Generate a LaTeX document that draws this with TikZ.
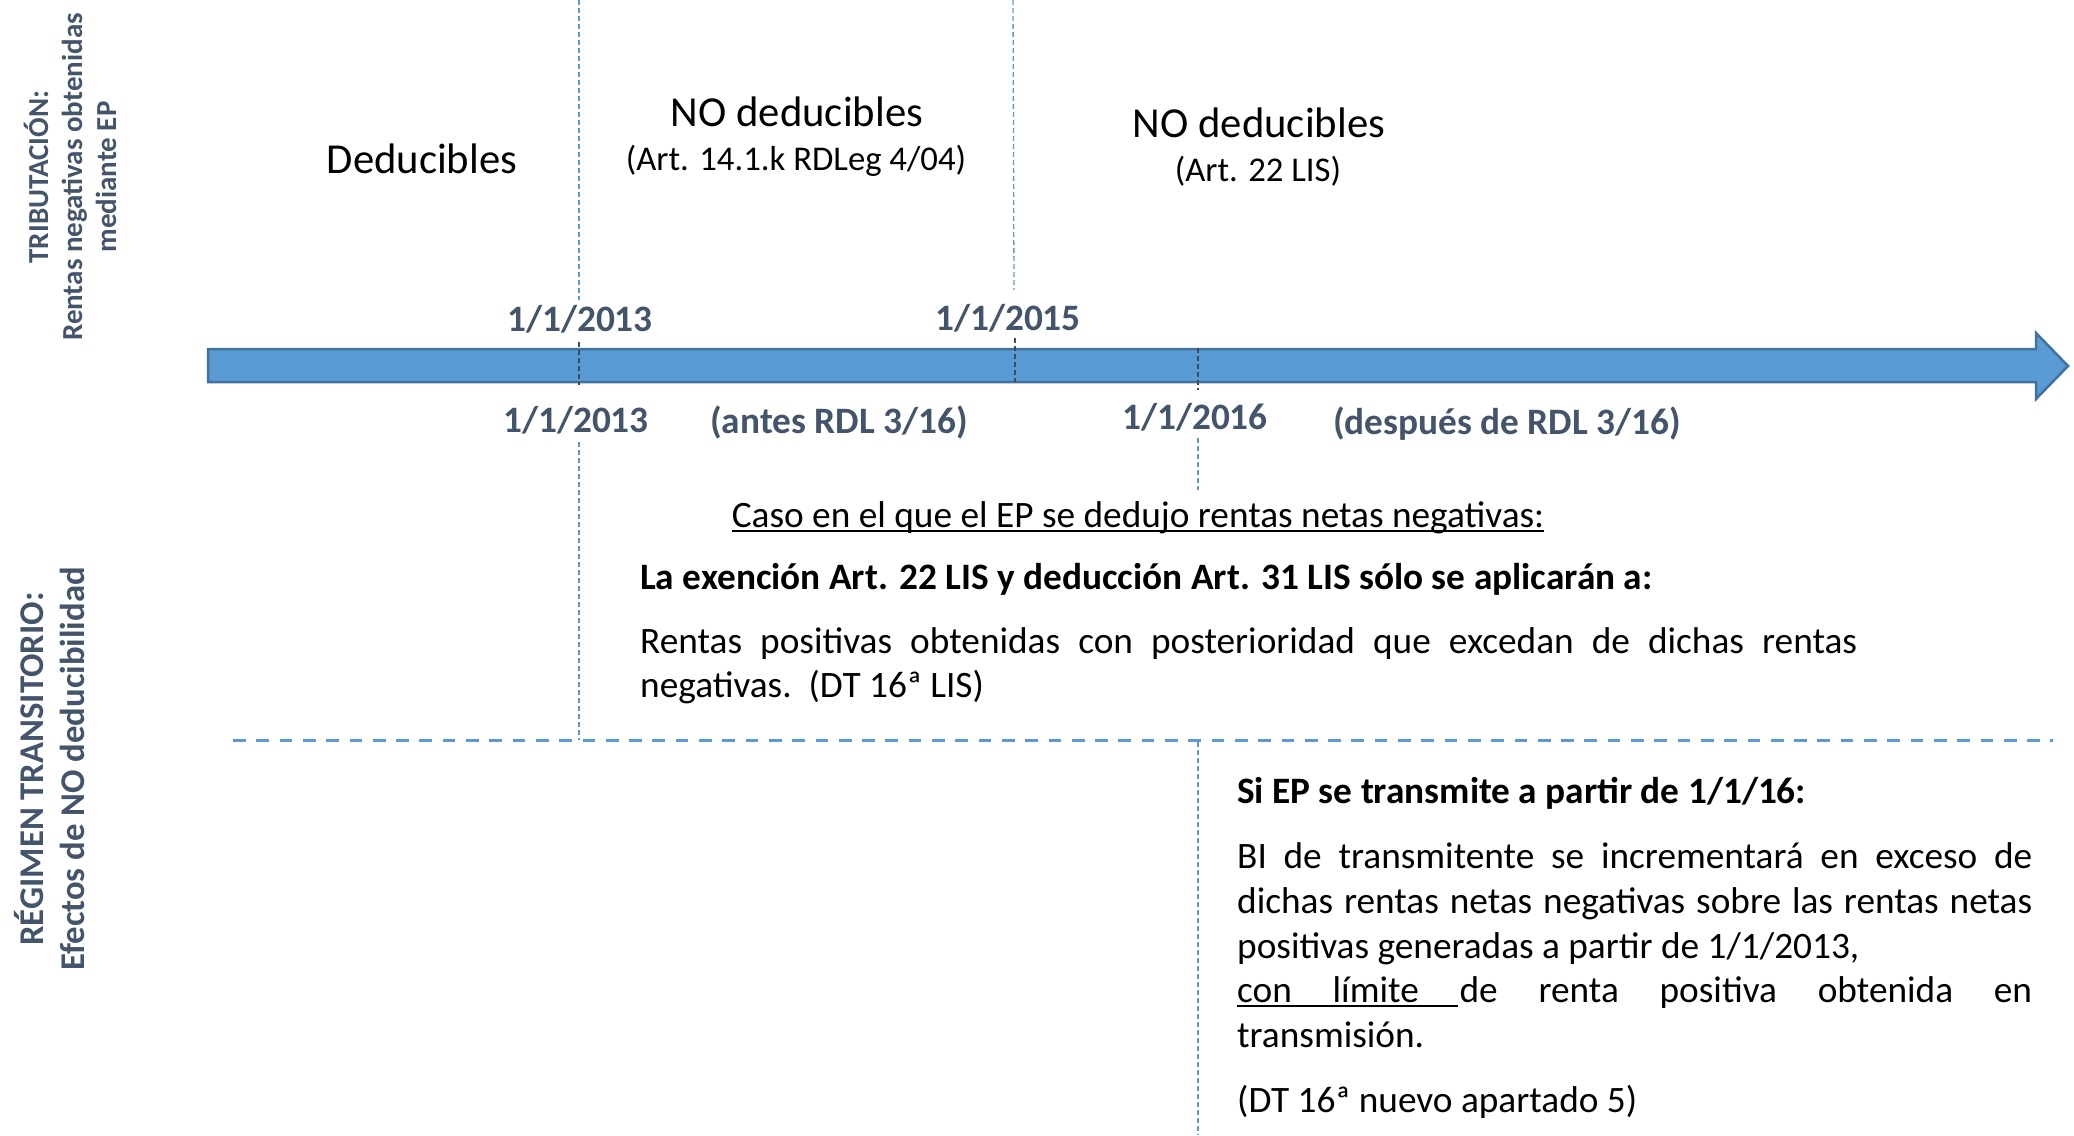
\documentclass[tikz,border=0pt]{standalone}
\usepackage{fontspec}
\setmainfont{Carlito}
\definecolor{tblue}{HTML}{5B9BD5}
\definecolor{tborder}{HTML}{41719C}
\definecolor{tslate}{HTML}{44546A}
\definecolor{tdark}{HTML}{3B4A5C}
\newcommand\myul[1]{\setbox0\hbox{#1}\rlap{\rule[-5pt]{\wd0}{2pt}}#1}
\begin{document}
\begin{tikzpicture}[x=1pt,y=-1pt,
  datelbl/.style={anchor=base, inner sep=0pt, text=tslate, font=\fontsize{37.3}{45}\selectfont\bfseries},
  headlbl/.style={anchor=base, inner sep=0pt, font=\fontsize{42.7}{52}\selectfont},
  sublbl/.style={anchor=base, inner sep=0pt, font=\fontsize{34.7}{45}\selectfont},
  bodyline/.style={anchor=base west, inner sep=0pt, font=\fontsize{37.3}{45}\selectfont},
  boldline/.style={bodyline, font=\fontsize{37.3}{45}\selectfont\bfseries},
  sidelbl/.style={rotate=90, align=center, inner sep=0pt, text=tslate},
  vline/.style={tblue, line width=1.3pt, dash pattern=on 5pt off 3pt},
  vdark/.style={tdark, line width=1.5pt, dash pattern=on 5pt off 3pt},
  hline/.style={tblue, line width=3pt, dash pattern=on 12.7pt off 10.6pt}]
\useasboundingbox (0,0) rectangle (2074,1135);

% timeline arrow
\draw[tborder, line width=2.5pt, fill=tblue, line join=miter]
  (208,349) -- (2036,349) -- (2036,333) -- (2068,366) -- (2036,399) -- (2036,382) -- (208,382) -- cycle;

% vertical dividers
\draw[vline] (579,0) -- (579,300);
\draw[vdark] (579,342) -- (579,385);
\draw[vline] (579,442) -- (579,740);
\draw[vline] (1013,0) -- (1014,290);
\draw[vdark] (1015,338) -- (1015,382);
\draw[vdark] (1198,348) -- (1198,390);
\draw[vline] (1198,438) -- (1198,490);
\draw[vline] (1198,742) -- (1198,1135);

% horizontal divider
\draw[hline] (233,740) -- (2053,740);

% upper labels
\node[headlbl] (ded) at (422,173) {Deducibles};
\node[headlbl] (nod1) at (797,126) {NO deducibles};
\node[sublbl] (art14) at (796,170) {(Art. 14.1.k RDLeg 4/04)};
\node[headlbl] (nod2) at (1259,137) {NO deducibles};
\node[sublbl] (art22) at (1258,181) {(Art. 22 LIS)};

% dates
\node[datelbl] (d13a) at (580,331) {1/1/2013};
\node[datelbl] (d15) at (1008,330) {1/1/2015};
\node[datelbl] (d13b) at (576,432) {1/1/2013};
\node[datelbl] (antes) at (839,433) {(antes RDL 3/16)};
\node[datelbl] (d16) at (1195,429) {1/1/2016};
\node[datelbl] (desp) at (1507,434) {(después de RDL 3/16)};

% middle block
\node[anchor=base, inner sep=0pt, font=\fontsize{37.3}{45}\selectfont] (caso) at (1138,527) {\myul{Caso en el que el EP se dedujo rentas netas negativas:}};
\node[boldline] (exen) at (640,589) {La exención Art. 22 LIS y deducción Art. 31 LIS sólo se aplicarán a:};
\node[bodyline] (rent1) at (640,653) {\makebox[1217pt][s]{Rentas positivas obtenidas con posterioridad que excedan de dichas rentas}};
\node[bodyline] (rent2) at (640,697) {negativas.\hspace{17pt}(DT 16ª LIS)};

% lower right block
\node[boldline] (si) at (1237,803) {Si EP se transmite a partir de 1/1/16:};
\node[bodyline] (bi1) at (1237,868) {\makebox[795pt][s]{BI de transmitente se incrementará en exceso de}};
\node[bodyline] (bi2) at (1237,913) {\makebox[795pt][s]{dichas rentas netas negativas sobre las rentas netas}};
\node[bodyline] (bi3) at (1237,958) {positivas generadas a partir de 1/1/2013,};
\node[bodyline] (bi4) at (1237,1002) {\makebox[795pt][s]{\rlap{\rule[-5pt]{221pt}{2pt}}con límite de renta positiva obtenida en}};
\node[bodyline] (bi5) at (1237,1047) {transmisión.};
\node[bodyline] (bi6) at (1237,1112) {(DT 16ª nuevo apartado 5)};

% side labels
\node[sidelbl, font=\fontsize{29}{34}\selectfont\bfseries] (trib) at (70,177) {TRIBUTACIÓN:\\Rentas negativas obtenidas\\mediante EP};
\node[sidelbl, font=\fontsize{34.7}{41}\selectfont\bfseries] (regim) at (50,769) {RÉGIMEN TRANSITORIO:\\Efectos de NO deducibilidad};
\end{tikzpicture}
\end{document}
